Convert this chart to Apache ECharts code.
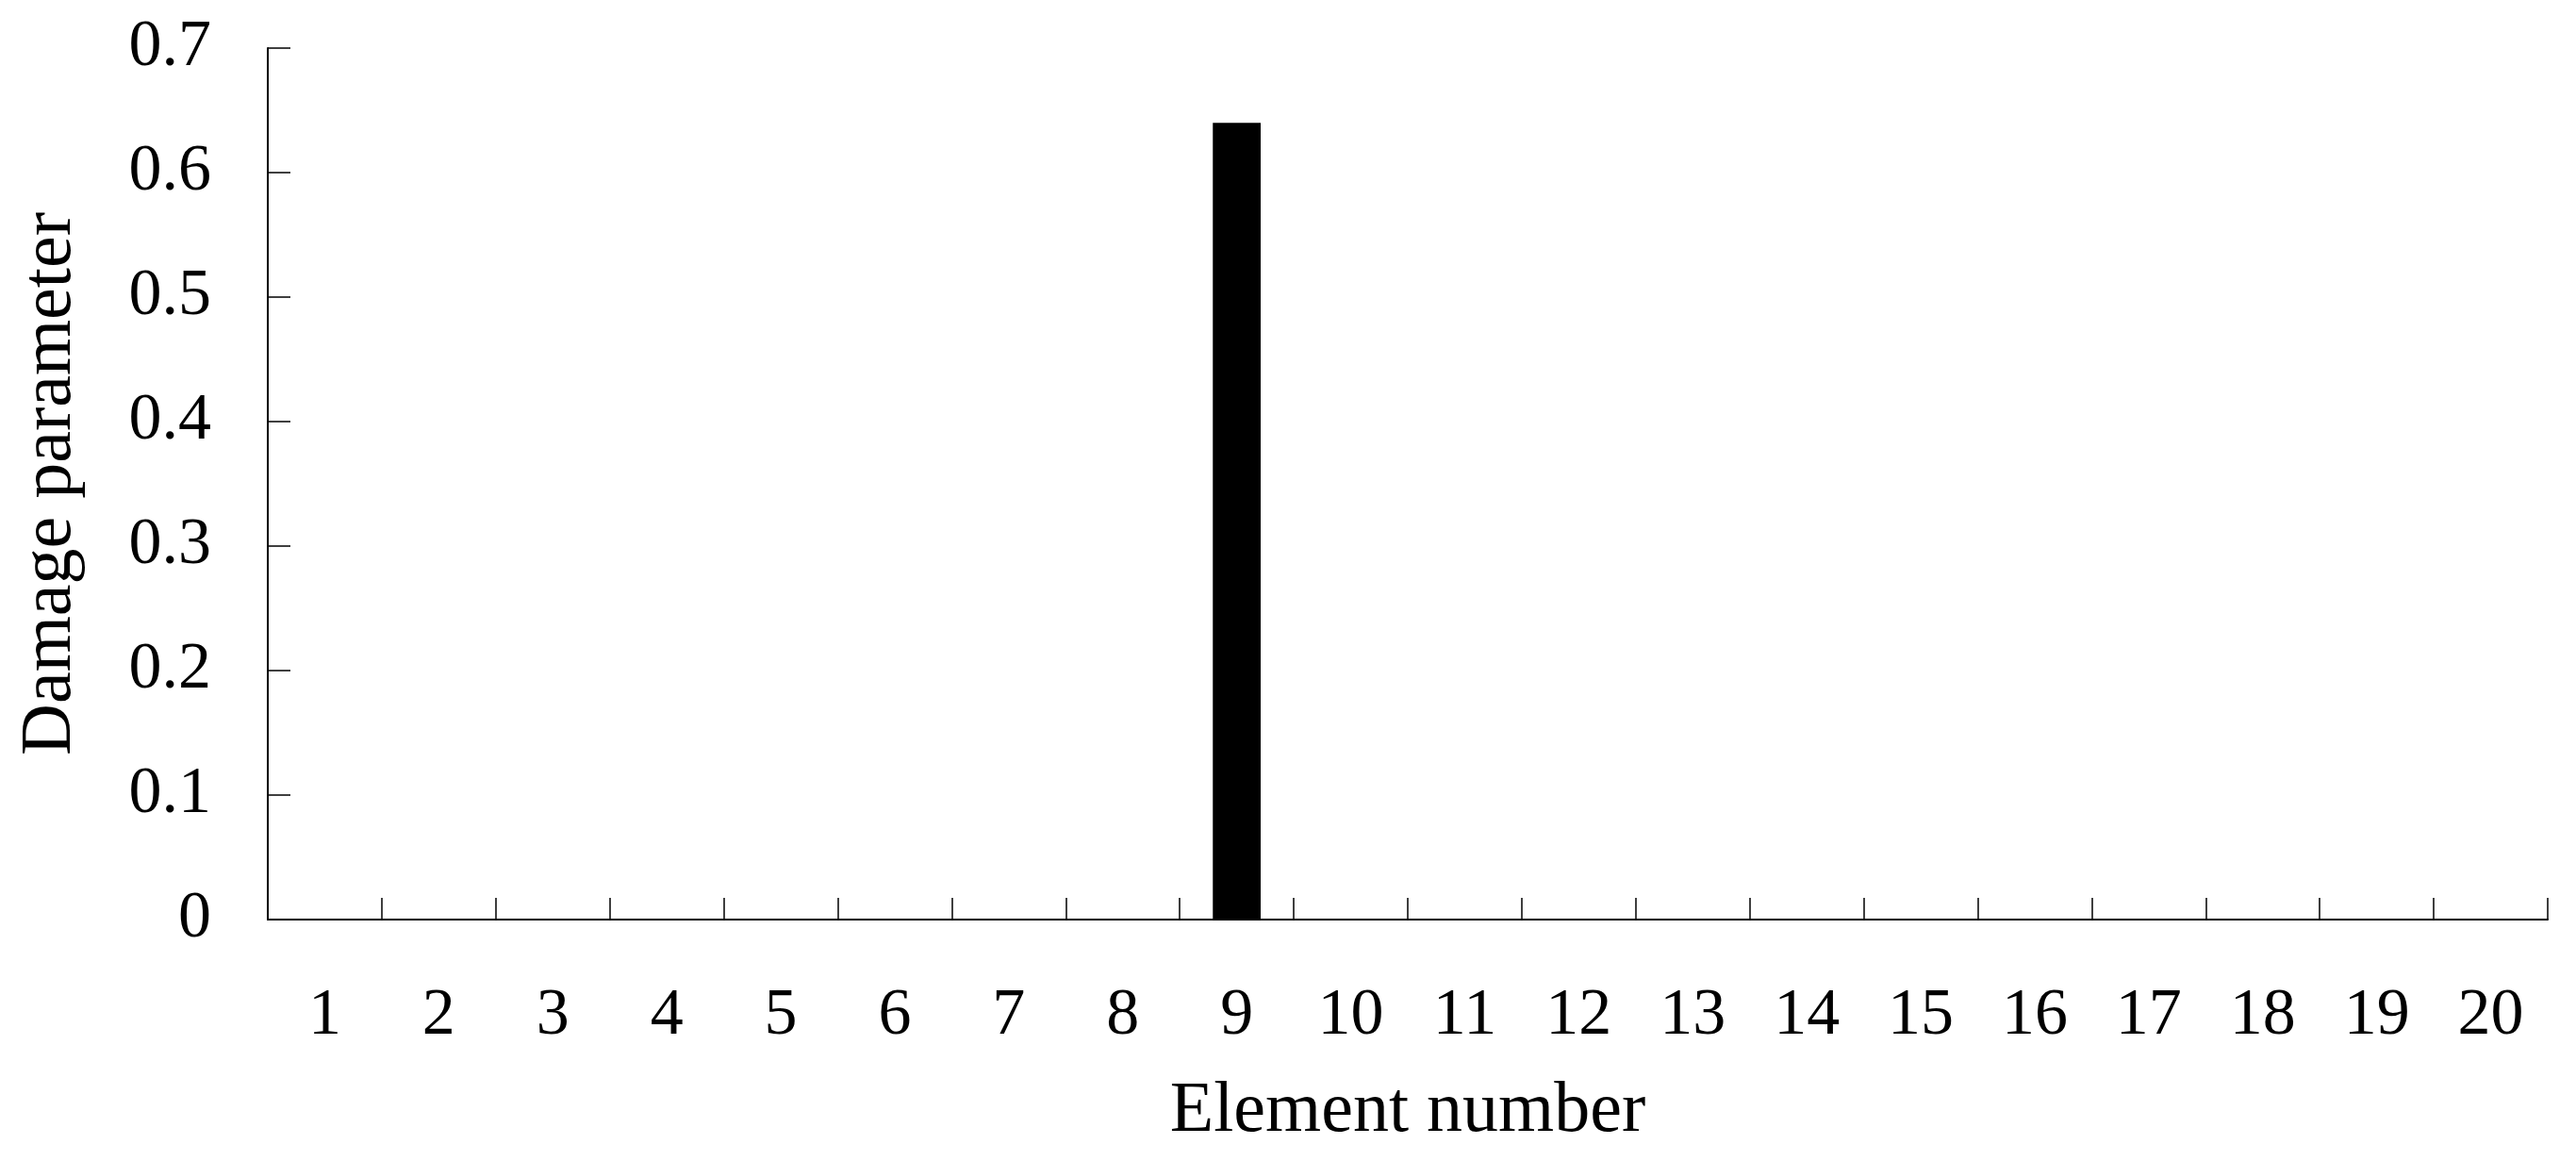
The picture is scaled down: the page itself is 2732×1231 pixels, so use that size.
<!DOCTYPE html>
<html>
<head>
<meta charset="utf-8">
<script src="https://cdn.jsdelivr.net/npm/echarts@6/dist/echarts.min.js"></script>
<style>
    html, body { margin: 0; padding: 0; background: #fff; }
    #main { width: 2732px; height: 1231px; }
</style>
</head>
<body>
<div id="main"></div>
<script>
    // element numbers on the x axis
    let elements = ['1', '2', '3', '4', '5', '6', '7', '8', '9', '10',
        '11', '12', '13', '14', '15', '16', '17', '18', '19', '20'];
    // identified damage parameter per element (only element 9 is damaged)
    let damage = [0, 0, 0, 0, 0, 0, 0, 0, 0.64, 0,
        0, 0, 0, 0, 0, 0, 0, 0, 0, 0];
    let yTicks = [0, 0.1, 0.2, 0.3, 0.4, 0.5, 0.6, 0.7];

    let fontName = '"Liberation Serif", "Times New Roman", serif';

    let chart = echarts.init(document.getElementById('main'));
    let option = {
        backgroundColor: '#fff',
        animation: false,
        grid: {left: 284, right: 30, top: 51, bottom: 256},
        xAxis: {
            type: 'category',
            data: elements,
            boundaryGap: true,
            name: 'Element number',
            nameLocation: 'middle',
            nameGap: 166,
            nameTextStyle: {color: '#000', fontSize: 76, fontFamily: fontName},
            axisLine: {show: true, lineStyle: {color: '#000', width: 2}},
            axisTick: {
                show: true, inside: true, interval: 0, alignWithLabel: false,
                length: 23, lineStyle: {color: '#000', width: 1.5}
            },
            axisLabel: {color: '#000', fontSize: 70, fontFamily: fontName, margin: 68, interval: 0}
        },
        yAxis: {
            type: 'value',
            min: yTicks[0],
            max: yTicks[yTicks.length - 1],
            interval: 0.1,
            name: 'Damage parameter',
            nameLocation: 'middle',
            nameRotate: 90,
            nameGap: 192,
            nameTextStyle: {color: '#000', fontSize: 76, fontFamily: fontName},
            axisLine: {show: true, lineStyle: {color: '#000', width: 2}},
            axisTick: {show: true, inside: true, length: 24, lineStyle: {color: '#000', width: 1.5}},
            axisLabel: {
                color: '#000', fontSize: 70, fontFamily: fontName, margin: 60,
                formatter: function(v) { return v === 0 ? '0' : v.toFixed(1); }
            },
            splitLine: {show: false}
        },
        series: [{
            type: 'bar',
            data: damage,
            barWidth: '42%',
            itemStyle: {color: '#000'}
        }]
    };
    chart.setOption(option);
</script>
</body>
</html>
